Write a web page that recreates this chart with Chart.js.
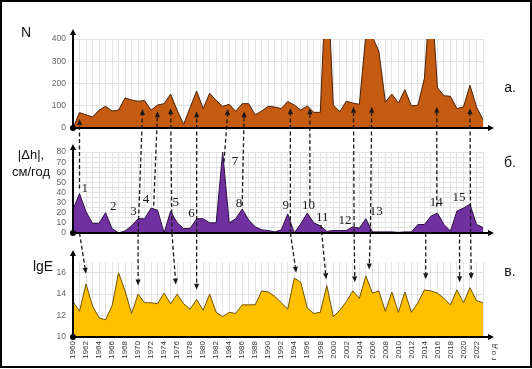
<!DOCTYPE html>
<html>
<head>
<meta charset="utf-8">
<script src="https://cdn.jsdelivr.net/npm/chart.js@4"></script>
<style>
  body { margin: 0; background: #fff; }
  #wrap { position: relative; width: 532px; height: 369px; }
  canvas { position: absolute; left: 0; }
</style>
</head>
<body>
<div id="wrap">
  <canvas id="top" width="532" height="140" style="top:0"></canvas>
  <canvas id="mid" width="532" height="105" style="top:140px"></canvas>
  <canvas id="bot" width="532" height="124" style="top:245px"></canvas>
  <canvas id="over" width="532" height="369" style="top:0"></canvas>
</div>
<script>
// years on the x axis
const years = [1960, 1961, 1962, 1963, 1964, 1965, 1966, 1967, 1968, 1969,
  1970, 1971, 1972, 1973, 1974, 1975, 1976, 1977, 1978, 1979,
  1980, 1981, 1982, 1983, 1984, 1985, 1986, 1987, 1988, 1989,
  1990, 1991, 1992, 1993, 1994, 1995, 1996, 1997, 1998, 1999,
  2000, 2001, 2002, 2003, 2004, 2005, 2006, 2007, 2008, 2009,
  2010, 2011, 2012, 2013, 2014, 2015, 2016, 2017, 2018, 2019,
  2020, 2021, 2022, 2023];

// а. N
const valuesN = [0, 69, 59, 49, 80, 97, 76, 80, 135, 126,
  120, 123, 80, 103, 109, 152, 80, 16, 92, 166,
  87, 156, 123, 97, 106, 75, 109, 109, 59, 76,
  97, 94, 87, 119, 103, 80, 99, 70, 70, 750,
  103, 73, 120, 112, 106, 420, 410, 345, 116, 152,
  112, 172, 99, 102, 224, 650, 181, 145, 142, 87,
  95, 192, 95, 37];

// б. |Δh|, см/год
const valuesDh = [23, 39, 21, 9.5, 9.5, 20, 4.4, 0, 2, 7,
  14, 14, 24.6, 22.5, 0, 21.6, 10, 4.4, 4.4, 14,
  14, 10, 10, 80, 10, 14, 23.7, 12.7, 6, 3,
  2.4, 1, 3, 18.7, 0, 9, 19.6, 10, 7, 1.5,
  2.4, 2.4, 2.4, 6, 4.7, 14, 1, 1, 1, 1,
  0.5, 1, 1, 8.3, 8.3, 16.6, 19.6, 8.3, 1.8, 21.6,
  24.6, 28.4, 8.3, 5.3];

// в. lgE
const valuesLgE = [13.3, 12.4, 14.95, 12.9, 11.8, 11.6, 12.9, 16.0, 14.3, 12.2,
  14.0, 13.2, 13.2, 13.1, 14.1, 13.1, 14.0, 13.1, 12.6, 13.5,
  12.5, 14.0, 12.3, 11.9, 12.3, 12.2, 13.0, 13.0, 13.0, 14.3,
  14.2, 13.8, 13.2, 12.6, 15.5, 15.1, 12.7, 12.2, 12.3, 14.8,
  11.9, 12.5, 13.3, 14.3, 13.6, 15.7, 14.1, 14.3, 12.4, 14.2,
  12.3, 14.2, 12.3, 13.2, 14.4, 14.3, 14.1, 13.6, 13.0, 14.4,
  13.2, 14.6, 13.4, 13.2];

// numbered events in panel б. (label, year, |Δh|)
const eventNums = ["1", "2", "3", "4", "5", "6", "7", "8", "9", "10", "11", "12", "13", "14", "15"];
const eventYears = [1961.8, 1966.2, 1969.3, 1971.2, 1975.8, 1978.2, 1984.9, 1985.5,
  1992.7, 1996.2, 1998.3, 2001.8, 2006.6, 2015.8, 2019.3];
const eventDh = [44, 26, 21, 32.5, 30.5, 19.6, 71, 29, 27, 27, 15.6, 11.8, 21.6, 29.6, 35];

// dashed arrows: [from year, from |Δh|, to year, to N]
const upArrows = [
  [1961, 44, 1961, 40], [1970, 0, 1970.7, 85], [1972.4, 27, 1973, 75],
  [1975.2, 0, 1975, 88], [1979, 0, 1979, 75], [1983.2, 70, 1983.8, 85],
  [1986, 27, 1986.3, 75], [1993.4, 0, 1993.4, 88], [1996.4, 30, 1996.4, 88],
  [2003.2, 0, 2003.1, 95], [2005.7, 0, 2005.9, 95], [2015.9, 26, 2015.9, 95],
  [2021.1, 0, 2021, 88]
];
// [from year, from |Δh|, to year, to lgE]
const downArrows = [
  [1961, 0, 1962, 15.9], [1970, 0, 1970, 14.8], [1975.2, 0, 1975.8, 14.9],
  [1979, 0, 1979, 14.4], [1993.4, 0, 1994.3, 16.0], [1998.1, 8, 1998.9, 15.4],
  [2003.2, 0, 2003.3, 15.1], [2005.7, 0, 2005.5, 16.3], [2014.2, 0, 2014.2, 15.4],
  [2019.4, 0, 2019.4, 15.1], [2021.1, 0, 2021.2, 15.4]
];

const SANS = "'Liberation Sans', Arial, sans-serif";

function points(vals) {
  return years.map((y, i) => ({ x: y, y: vals[i] }));
}

// black axes with arrows, origin dot, titles
const axesArrows = {
  id: 'axesArrows',
  afterDraw(chart, args, o) {
    const ctx = chart.ctx, a = chart.chartArea;
    ctx.save();
    ctx.strokeStyle = '#000';
    ctx.fillStyle = '#000';
    ctx.lineWidth = 2;
    const yTip = a.top - o.yExtra, xTip = a.right + 11;
    ctx.beginPath();
    ctx.moveTo(a.left, a.bottom); ctx.lineTo(a.left, yTip + 4);
    ctx.moveTo(a.left, a.bottom); ctx.lineTo(xTip - 4, a.bottom);
    ctx.stroke();
    ctx.beginPath();
    ctx.moveTo(a.left, yTip); ctx.lineTo(a.left - 3, yTip + 6); ctx.lineTo(a.left + 3, yTip + 6);
    ctx.closePath(); ctx.fill();
    ctx.beginPath();
    ctx.moveTo(xTip, a.bottom); ctx.lineTo(xTip - 6, a.bottom - 3); ctx.lineTo(xTip - 6, a.bottom + 3);
    ctx.closePath(); ctx.fill();
    ctx.beginPath();
    ctx.arc(a.left, a.bottom, 3, 0, Math.PI * 2);
    ctx.fill();

    ctx.fillStyle = '#111';
    ctx.textAlign = 'center';
    ctx.textBaseline = 'middle';
    (o.titles || []).forEach(t => {
      ctx.font = t.size + 'px ' + SANS;
      ctx.fillText(t.text, t.x, t.y);
    });

    if (o.events) {
      const sx = chart.scales.x, sy = chart.scales.y;
      ctx.font = "13px 'Liberation Serif', 'Times New Roman', serif";
      ctx.fillStyle = '#1a1a1a';
      eventNums.forEach((n, i) => {
        ctx.fillText(n, sx.getPixelForValue(eventYears[i]), sy.getPixelForValue(eventDh[i]));
      });
    }
    ctx.restore();
  }
};

function makePanel(id, vals, o) {
  return new Chart(document.getElementById(id), {
    type: 'line',
    data: {
      datasets: [{
        data: points(vals),
        borderColor: o.line,
        backgroundColor: o.fill,
        borderWidth: 1,
        fill: o.fillTo,
        pointRadius: 0,
        tension: 0
      }]
    },
    options: {
      responsive: false,
      animation: false,
      events: [],
      layout: { padding: { left: 0, right: 49, top: o.padTop, bottom: o.padBottom } },
      plugins: {
        legend: { display: false },
        tooltip: { enabled: false },
        axesArrows: { yExtra: o.yExtra, titles: o.titles, events: o.events }
      },
      scales: {
        x: {
          type: 'linear',
          min: 1960,
          max: 2023,
          border: { display: false },
          grid: { color: '#e4e4e4', drawTicks: false },
          ticks: {
            display: o.xLabels,
            stepSize: 1,
            autoSkip: false,
            minRotation: 90,
            maxRotation: 90,
            padding: 4,
            color: '#333',
            font: { family: SANS, size: 8 },
            callback: v => (v % 2 === 0 && v < 2023) ? String(v) : ''
          },
          afterFit: s => { s.height = o.xHeight; }
        },
        y: {
          min: o.min,
          max: o.max,
          border: { display: false },
          grid: { color: '#e2e2e2', drawTicks: false },
          ticks: {
            stepSize: o.step,
            autoSkip: false,
            includeBounds: false,
            padding: 7,
            color: '#666',
            font: { family: SANS, size: 8.5 },
            callback: o.yCb
          },
          afterFit: s => { s.width = 73; }
        }
      }
    },
    plugins: [axesArrows]
  });
}

const topChart = makePanel('top', valuesN, {
  line: '#4a220a', fill: '#c55a11', fillTo: 'origin',
  min: 0, max: 400, step: 100, yCb: v => v,
  padTop: 39, padBottom: 8, xHeight: 0, xLabels: false, yExtra: 10,
  titles: [{ text: 'N', x: 26, y: 33, size: 14 }, { text: 'а.', x: 510, y: 88, size: 14 }]
});

const midChart = makePanel('mid', valuesDh, {
  line: '#2e1045', fill: '#7030a0', fillTo: 'origin',
  min: 0, max: 80, step: 5, yCb: v => (v % 10 === 0 ? v : ''),
  padTop: 9, padBottom: 6, xHeight: 0, xLabels: false, yExtra: 8, events: true,
  titles: [{ text: '|Δh|,', x: 31, y: 15, size: 13 }, { text: 'см/год', x: 31, y: 32, size: 13 },
    { text: 'б.', x: 510, y: 23, size: 14 }]
});

const botChart = makePanel('bot', valuesLgE, {
  line: '#6e5200', fill: '#ffc000', fillTo: 'start',
  min: 10, max: 17, step: 2, yCb: v => v,
  padTop: 17, padBottom: 0, xHeight: 32, xLabels: true, yExtra: 12,
  titles: [{ text: 'lgE', x: 43, y: 22, size: 14 }, { text: 'в.', x: 510, y: 27, size: 14 }]
});

// pixel position of a value on one of the panels, in page coordinates
function pos(chart, year, v) {
  return {
    x: chart.scales.x.getPixelForValue(year),
    y: chart.scales.y.getPixelForValue(v) + chart.canvas.offsetTop
  };
}

function dashedArrow(ctx, p0, p1) {
  const ang = Math.atan2(p1.y - p0.y, p1.x - p0.x);
  const hl = 6, hw = 2.6;
  const bx = p1.x - Math.cos(ang) * hl, by = p1.y - Math.sin(ang) * hl;
  ctx.setLineDash([4, 2.5]);
  ctx.beginPath();
  ctx.moveTo(p0.x, p0.y);
  ctx.lineTo(bx, by);
  ctx.stroke();
  ctx.setLineDash([]);
  ctx.beginPath();
  ctx.moveTo(p1.x, p1.y);
  ctx.lineTo(bx + Math.sin(ang) * hw, by - Math.cos(ang) * hw);
  ctx.lineTo(bx - Math.sin(ang) * hw, by + Math.cos(ang) * hw);
  ctx.closePath();
  ctx.fill();
}

function drawOverlay() {
  const ctx = document.getElementById('over').getContext('2d');
  ctx.save();
  ctx.strokeStyle = '#1a1a1a';
  ctx.fillStyle = '#1a1a1a';
  ctx.lineWidth = 1.3;
  upArrows.forEach(a => {
    dashedArrow(ctx, pos(midChart, a[0], a[1]), pos(topChart, a[2], a[3]));
  });
  downArrows.forEach(a => {
    dashedArrow(ctx, pos(midChart, a[0], a[1]), pos(botChart, a[2], a[3]));
  });

  // axis name at the end of the year axis
  ctx.save();
  ctx.translate(494, 352);
  ctx.rotate(-Math.PI / 2);
  ctx.font = '8px ' + SANS;
  ctx.fillStyle = '#333';
  ctx.textAlign = 'center';
  ctx.textBaseline = 'middle';
  ctx.fillText('г о д', 0, 0);
  ctx.restore();

  // frame
  ctx.strokeStyle = '#000';
  ctx.lineWidth = 2;
  ctx.strokeRect(1, 1, 530, 366);
  ctx.restore();
}

drawOverlay();
</script>
</body>
</html>
